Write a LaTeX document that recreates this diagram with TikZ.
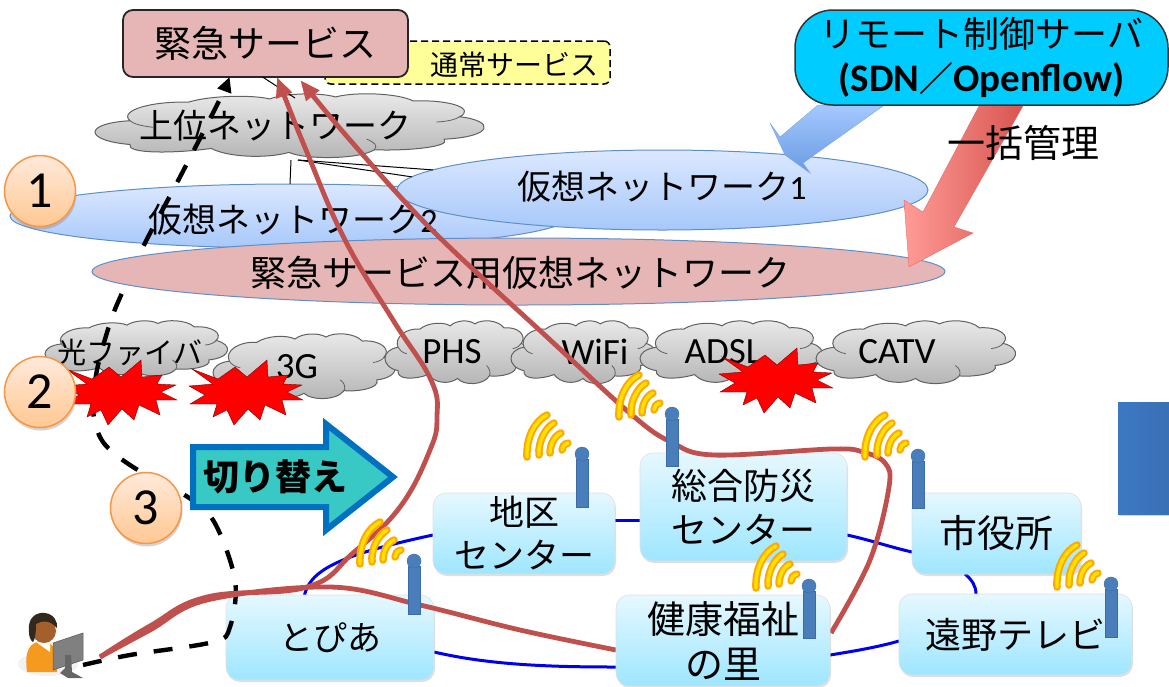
\documentclass[tikz,border=0pt]{standalone}
\usepackage{fontspec}
\setmainfont{Noto Sans CJK JP}
\newfontfamily\latf{Carlito}
\newfontfamily\cjkf{Noto Sans CJK JP}
\usetikzlibrary{shapes.geometric,shadows,arrows.meta,calc}
\definecolor{redline}{HTML}{C0504D}
\definecolor{bluenet}{HTML}{0000F0}
\definecolor{pinkfill}{HTML}{E6B5B5}
\definecolor{boxtop}{HTML}{E6F8FF}
\definecolor{boxbot}{HTML}{9EE6FF}
\definecolor{ntop}{HTML}{DCE8FF}
\definecolor{nbot}{HTML}{A6C8FA}
\definecolor{nline}{HTML}{5F8FC8}
\definecolor{ctop}{HTML}{EAEAEA}
\definecolor{cbot}{HTML}{B4B4B4}
\definecolor{circtop}{HTML}{FFEADB}
\definecolor{circbot}{HTML}{FFC892}
\definecolor{circline}{HTML}{F79646}
\definecolor{polec}{HTML}{4A7EBB}
\definecolor{polel}{HTML}{3A6CA8}
\definecolor{wout}{HTML}{FFA800}
\definecolor{wyel}{HTML}{FFE000}
\definecolor{personor}{HTML}{F59A1E}
\definecolor{personface}{HTML}{A55F2D}
\definecolor{personhair}{HTML}{32281E}
\definecolor{rightl}{HTML}{3C78C3}
\definecolor{rightr}{HTML}{3A70B4}
\definecolor{normalfill}{HTML}{FFFF99}
\definecolor{remotefill}{HTML}{00CCFF}
\definecolor{barrowt}{HTML}{A5C8FF}
\definecolor{barrowb}{HTML}{699BE1}
\definecolor{barrowl}{HTML}{78A5E6}
\definecolor{rarrowl}{HTML}{FF9B96}
\definecolor{rarrowr}{HTML}{D75550}
\definecolor{rarrowd}{HTML}{E66E69}
\definecolor{swline}{HTML}{0070C0}
\definecolor{swfill}{HTML}{38C9C4}
\newcommand\fs[1]{\fontsize{#1}{#1}\selectfont}
\tikzset{
  x=1pt,y=-1pt,
  netbox/.style={rectangle,rounded corners=13pt,draw=black!12,line width=.6pt,top color=boxtop,bottom color=boxbot,inner sep=0,outer sep=0,align=center,drop shadow={shadow xshift=1pt,shadow yshift=-2pt,opacity=.25}},
  ell/.style={ellipse,draw=nline,line width=1pt,inner sep=0,outer sep=0},
  bluenetz/.style={ell,top color=ntop,bottom color=nbot},
  pinknetz/.style={ell,fill=pinkfill},
  numcirc/.style={circle,draw=circline,line width=1.5pt,top color=circtop,bottom color=circbot,inner sep=0,outer sep=0,minimum size=71pt,font=\latf\fs{52},drop shadow={shadow xshift=1pt,shadow yshift=-3pt,opacity=.35}},
  redcurve/.style={draw=redline,line width=4.8pt},
  bluecurve/.style={draw=bluenet,line width=3pt},
  lab/.style={inner sep=0,outer sep=0,align=center},
  netlabel/.style={lab,font=\latf\fs{37}},
}
\newcommand\bx[7][netbox]{\node[#1,minimum width={#5-#3},minimum height={#6-#4}] (#2) at ({(#3+#5)/2},{(#4+#6)/2}) {#7};}
\newcommand\elp[6]{\node[#1,minimum width={#4-#3},minimum height={#6-#5}] (#2) at ({(#3+#4)/2},{(#5+#6)/2}) {};}
% cloud outline in a 0..100 square, stretched to x1,y1,x2,y2
\newcommand\wk[4]{\begin{scope}[shift={(#1,#2)},xscale={(#3-#1)/100},yscale={(#4-#2)/100}]
 \shade[top color=ctop,bottom color=cbot,draw=black!62,line width=1pt]
 (9,78) .. controls (-3,72) and (-3,46) .. (9,42)
 .. controls (6,26) and (15,12) .. (24,14)
 .. controls (30,3) and (41,3) .. (45,9)
 .. controls (49,0) and (58,-1) .. (62,6)
 .. controls (67,-2) and (78,0) .. (82,12)
 .. controls (92,10) and (98,24) .. (94,36)
 .. controls (103,42) and (103,66) .. (90,70)
 .. controls (92,82) and (80,88) .. (72,86)
 .. controls (68,101) and (54,101) .. (50,90)
 .. controls (44,100) and (34,97) .. (30,84)
 .. controls (20,92) and (8,92) .. (9,78) -- cycle;
 \draw[black!62,line width=.8pt] (94,36) .. controls (93,40) and (91,43) .. (88,44);
 \draw[black!62,line width=.8pt] (72,86) .. controls (73,80) and (72,74) .. (70,70);
 \draw[black!62,line width=.8pt] (9,42) .. controls (10,47) and (12,50) .. (15,52);
\end{scope}}
\newcommand\wifi[2]{\begin{scope}[shift={(#1,#2)},line cap=round]
  \foreach \c/\w in {wout/7.5,wyel/3.4}{
  \draw[\c,line width=\w pt] (4,45) .. controls (3,25) and (12,9) .. (24,3);
  \draw[\c,line width=\w pt] (16,43) .. controls (15,30) and (22,16) .. (31,11);
  \draw[\c,line width=\w pt] (27,41) .. controls (27,33) and (31,24) .. (38,21);
  \draw[\c,line width=\w pt] (39,38) .. controls (39,35) and (41,32) .. (45,31);}
\end{scope}}
\newcommand\pole[3]{\fill[polec,draw=polel] (#1-6,#2+5) rectangle (#1+6,#3);
  \fill[polec,draw=polel] (#1,#2) circle (7);}
\newcommand\burst[2]{\begin{scope}[shift={(#1,#2)}]
 \fill[red,draw=red!50!black,line width=.4pt] (-54,-23)--(-28,-13)--(-11,-25)--(1,-15)--(21,-32)--(22,-15)--(42,-17)--(37,-8)--(56,-7)--(41,0)--(57,8)--(36,8)--(40,23)--(19,13)--(14,28)--(2,17)--(-12,33)--(-19,18)--(-33,25)--(-29,12)--(-56,12)--(-41,3)--(-57,-6)--(-33,-8)--cycle;
\end{scope}}
\begin{document}
\begin{tikzpicture}
\useasboundingbox (0,0) rectangle (1169,686);
% blue fragment at the right
\fill[left color=rightl,right color=rightr,drop shadow={shadow xshift=1pt,shadow yshift=-2pt,opacity=.3}] (1118,402) rectangle (1170,514);
% normal service
\bx[draw=black,line width=1.5pt,dash pattern=on 7pt off 4pt,fill=normalfill,rounded corners=6pt,inner sep=0,outer sep=0]{normal}{325}{41}{610}{84}{}
\node[lab,font=\fs{28}] (normalt) at (514,65) {通常サービス};
% upper cloud and virtual networks
\elp{bluenetz}{vn2}{10}{570}{184}{248}
\coordinate (upperlow) at (298,160);
\coordinate (upperlowb) at (291,160);
\coordinate (uppertop) at (295,98);
\draw[line width=1pt] (upperlowb) -- (vn2.north);
\elp{bluenetz}{vn1}{397}{928}{150}{230}
\draw[line width=1pt] (upperlow) -- (vn1.175);
\draw[line width=1pt] (upperlow) -- (vn1.177);
\wk{95}{93}{483}{159}
\node[lab,font=\fs{34}] (uppert) at (275,126) {上位ネットワーク};
\node[lab,font=\fs{34}] (vn2t) at (293,220) {仮想ネットワーク\latf 2};
\node[lab,font=\fs{34}] (vn1t) at (662,187) {仮想ネットワーク\latf 1};
% lower clouds
\wk{45}{320}{227}{377}
\wk{213}{333}{395}{400}
\wk{385}{320}{530}{385}
\wk{511}{320}{655}{385}
\wk{640}{320}{822}{385}
\wk{816}{320}{1015}{385}
\node[lab,font=\fs{29}] (hikarit) at (130,352) {光ファイバ};
\node[netlabel] (tgt) at (297,367) {3G};
\node[netlabel] (phst) at (452,352) {PHS};
\node[netlabel] (wifit) at (595,352) {WiFi};
\node[netlabel] (adslt) at (723,352) {ADSL};
\node[netlabel] (catvt) at (897,352) {CATV};
% user reference points
\coordinate (userd) at (83,665);
\coordinate (userr) at (100,657);
\bx[draw=black!85,line width=1.8pt,fill=pinkfill,rounded corners=10pt,font=\fs{37},inner sep=0,outer sep=0]{em}{123}{10}{408}{77}{緊急サービス}
\draw[line width=1pt] (em.-95) -- (uppertop);
% first box and its links lie under the dashed path
\coordinate (a1) at (304,598);
\coordinate (a2) at (434,652);
\coordinate (a3) at (616,667);
\coordinate (a4) at (615,520);
\coordinate (a5) at (640,520);
\coordinate (a6) at (847,535);
\coordinate (a7) at (912,552);
\coordinate (a8) at (965,574);
\coordinate (a9) at (976,594);
\coordinate (a10) at (830,655);
\coordinate (a11) at (899,641);
\coordinate (a12) at (433,535);
\draw[bluecurve] (a1) .. controls (308,570) and (340,555) .. (a12);
\draw[bluecurve] (a2) .. controls (490,665) and (550,667) .. (a3);
\bx[netbox,font=\fs{34}]{topia}{226}{595}{434}{680}{とぴあ}
% dashed path
\draw[line width=4.4pt,dash pattern=on 19pt off 17pt,-{Triangle[length=15pt,width=14pt]}] plot[smooth,tension=.55] coordinates {(userd) (130,655) (213,642) (230,627) (235,580) (213,520) (180,492) (133,467) (103,442) (93,410) (97,370) (110,323) (122,293) (145,243) (180,177) (218,103) (em.-137)};
% emergency network
\elp{pinknetz}{en}{92}{945}{238}{305}
\node[lab,font=\fs{36}] (ent) at (520,273) {緊急サービス用仮想ネットワーク};
% big arrows
\shade[top color=barrowt,bottom color=barrowb,draw=barrowl,line width=.4pt] (818,105)--(780,137)--(770,123)--(785,155)--(810,173)--(803,163)--(883,106)--cycle;
\shade[left color=rarrowl,right color=rarrowr,draw=rarrowd,line width=.4pt] (979,106)--(923,212)--(904,200)--(909,267)--(973,233)--(954,227)--(1023,106)--cycle;
\bx[draw=black!80,line width=1.5pt,fill=remotefill,rounded corners=38pt,inner sep=0,outer sep=0,align=center,font=\fontsize{36}{43}\selectfont]{remote}{795}{10}{1168}{105}{リモート制御サーバ\\[1pt]{\latf\fontsize{39}{43}\selectfont\bfseries (SDN{\cjkf\fontsize{34}{43}\selectfont\bfseries ／}Openflow)}}
\node[lab,font=\fs{38}] (ikkatsu) at (1023,143) {一括管理};
% other links and boxes
\draw[bluecurve] (a4) -- (a5);
\draw[bluecurve] (a6) .. controls (870,540) and (890,547) .. (a7);
\draw[bluecurve] (a8) .. controls (972,580) and (976,586) .. (a9);
\draw[bluecurve] (a10) .. controls (855,651) and (878,647) .. (a11);
\bx[netbox,font=\fontsize{35}{43}\selectfont]{tiku}{433}{493}{615}{574}{地区\\センター}
\bx[netbox,font=\fontsize{36}{44}\selectfont]{sogo}{640}{453}{847}{561}{総合防災\\センター}
\bx[netbox,font=\fs{38}]{shiyaku}{912}{493}{1081}{574}{市役所}
\bx[netbox,font=\fs{36}]{tono}{899}{594}{1132}{675}{遠野テレビ}
% bursts
\burst{120}{392}
\burst{246}{392}
\burst{776}{380}
% switching arrow
\draw[line width=6pt,draw=swline,fill=swfill,miter limit=10] (193,447)--(326,447)--(326,424)--(393,477)--(326,530)--(326,507)--(193,507)--cycle;
\node[lab,font=\fs{36}\bfseries] (kirikae) at (275,477) {切り替え};
% number circles
\node[numcirc] (n1) at (40,191) {1};
\node[numcirc] (n2) at (40,392) {2};
\node[numcirc] (n3) at (146,508) {3};
% red paths
\coordinate (rk) at (831,633);
\coordinate (rl) at (616,650);
\draw[redcurve,-{Triangle[length=20pt,width=16pt]}] plot[smooth,tension=.7] coordinates {(userr) (150,626) (207,597) (307,587) (353,553) (400,507) (430,450) (437,417) (431,380) (393,320) (345,240) (306,150) (em.-71)};
\draw[redcurve,-{Triangle[length=20pt,width=16pt]},shorten >=4pt] plot[smooth,tension=.6] coordinates {(rk) (870,560) (889,487) (885,463) (863,452) (832,449) (714,455) (671,442) (632,415) (547,337) (432,230) (350,140) (em.-46)};
\draw[redcurve] plot[smooth,tension=.6] coordinates {(userr) (150,630) (207,600) (330,587) (420,605) (520,630) (rl)};
\bx[netbox,font=\fontsize{38}{45}\selectfont]{kenko}{616}{595}{830}{686}{健康福祉\\の里}
% antennas
\pole{414}{561}{614}
\pole{582}{454}{507}
\pole{672}{414}{466}
\pole{918}{456}{508}
\pole{809}{586}{638}
\pole{1111}{584}{637}
\wifi{356}{519}
\wifi{523}{412}
\wifi{615}{372}
\wifi{861}{412}
\wifi{752}{543}
\wifi{1053}{542}
% person
\fill[black!10,opacity=.5] (48,664) ellipse (30 and 12);
\fill[personor] (27,672) .. controls (24,650) and (30,642) .. (42,641) .. controls (54,642) and (58,650) .. (57,672) -- cycle;
\fill[white] (36,642) -- (50,642) -- (50,652) -- cycle;
\fill[personface] (44,631) circle (12);
\fill[personhair] (29,632) .. controls (27,616) and (38,612) .. (45,613) .. controls (54,614) and (58,622) .. (57,628) .. controls (50,620) and (42,620) .. (36,624) .. controls (36,632) and (35,640) .. (33,642) .. controls (30,640) and (29,636) .. cycle;
\fill[black!50,draw=black!65,line width=.5pt] (53,643) -- (83,633) -- (83,660) -- (53,670) -- cycle;
\fill[black!60] (65,655) -- (71,655) -- (72,672) -- (83,678) -- (68,678) -- (60,673) -- (65,668) -- cycle;
\end{tikzpicture}
\end{document}
